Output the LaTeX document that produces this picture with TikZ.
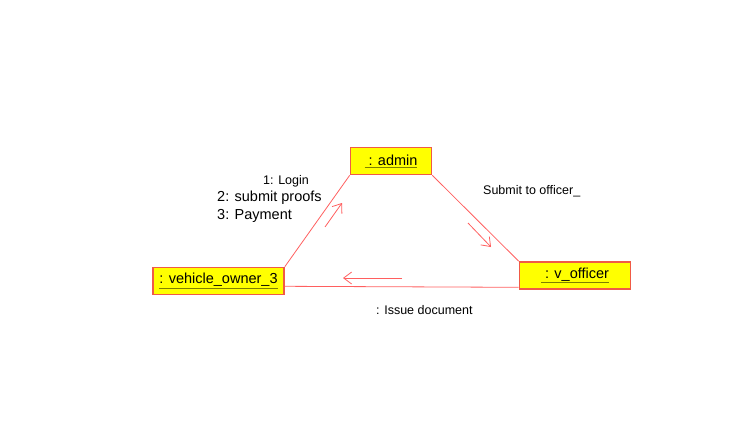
\documentclass[tikz,border=0pt]{standalone}
\usepackage{fontspec}
\setmainfont{Liberation Sans}
\usetikzlibrary{arrows.meta}

\definecolor{objfill}{HTML}{FFFF00}
\definecolor{objedge}{HTML}{F05A46}
\definecolor{linkred}{HTML}{FF5F5F}
\definecolor{ulcolor}{HTML}{7F7F00}

\newcommand{\objname}[1]{\textcolor{ulcolor}{\underline{\textcolor{black}{#1}}}}
\newcommand{\bigtxt}{\fontsize{14.5}{17}\selectfont}
\newcommand{\smalltxt}{\fontsize{12.5}{15}\selectfont}

\begin{document}
\begin{tikzpicture}[x=1pt,y=-1pt,
  obj/.style={draw=objedge,line width=1.6pt,fill=objfill,inner sep=0pt,
    minimum height=27pt,font=\bigtxt},
  link/.style={draw=linkred,line width=0.8pt},
  msg/.style={draw=linkred,line width=0.8pt,-{Straight Barb[length=8pt,width=12pt]}},
  lbl/.style={inner sep=0pt,anchor=west}]
\useasboundingbox (0,0) rectangle (749,447); %page size

\node[obj,minimum width=81pt] (adm) at (391,161) {\objname{\ : admin}};
\node[obj,minimum width=131pt] (vo) at (218.5,281) {\objname{: vehicle\_owner\_3}};
\node[obj,minimum width=111pt] (off) at (575,275.5) {\objname{\ : v\_officer}};

\draw[link] (vo.north east) -- (adm.south west);
\draw[link] (adm.south east) -- (off.north west);
\draw[link] ([yshift=9pt]vo.south east) -- ([yshift=2.5pt]off.south west);

% message arrows
\coordinate (m1s) at (325,227); \coordinate (m1e) at (342,203);
\coordinate (m2s) at (468,223); \coordinate (m2e) at (491,247);
\coordinate (m3s) at (402,278); \coordinate (m3e) at (343,278);
\draw[msg] (m1s) -- (m1e);
\draw[msg] (m2s) -- (m2e);
\draw[msg] (m3s) -- (m3e);

\node[lbl,font=\smalltxt] (login) at (263,181) {1: Login};
\node[lbl,font=\bigtxt] (proofs) at (217,197.5) {2: submit proofs};
\node[lbl,font=\bigtxt] (pay) at (217,215.5) {3: Payment};
\node[lbl,font=\smalltxt] (toofc) at (483,191) {Submit to officer\_};
\node[lbl,font=\smalltxt] (issue) at (376,310) {: Issue document};
\end{tikzpicture}
\end{document}
